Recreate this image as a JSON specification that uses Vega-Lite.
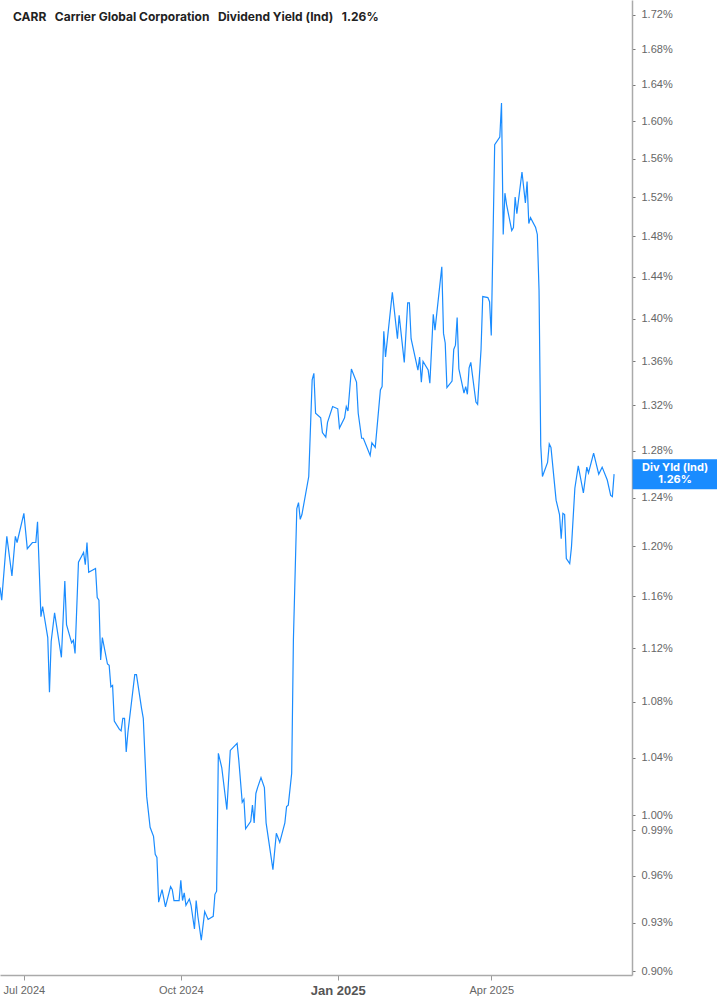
{
  "$schema": "https://vega.github.io/schema/vega-lite/v6.json",
  "width": 632,
  "height": 975,
  "autosize": {"type": "none"},
  "padding": {"left": 0, "top": 0, "right": 85, "bottom": 30},
  "title": {
    "text": "CARR\u00a0\u00a0\u00a0Carrier Global Corporation\u00a0\u00a0\u00a0Dividend Yield (Ind)\u00a0\u00a0\u00a01.26%",
    "anchor": "start",
    "frame": "group",
    "orient": "top",
    "offset": -21,
    "dx": 13,
    "dy": 12,
    "baseline": "alphabetic",
    "font": "Inter",
    "fontSize": 12,
    "fontWeight": "bold",
    "color": "#222222"
  },
  "data": {
    "values": [
      {"d": "2024-06-17", "v": 1.167}, {"d": "2024-06-18", "v": 1.157}, {"d": "2024-06-21", "v": 1.208},
      {"d": "2024-06-24", "v": 1.176}, {"d": "2024-06-26", "v": 1.208}, {"d": "2024-06-27", "v": 1.203},
      {"d": "2024-07-01", "v": 1.227}, {"d": "2024-07-03", "v": 1.198}, {"d": "2024-07-06", "v": 1.203},
      {"d": "2024-07-08", "v": 1.203}, {"d": "2024-07-09", "v": 1.220}, {"d": "2024-07-11", "v": 1.144},
      {"d": "2024-07-12", "v": 1.152}, {"d": "2024-07-15", "v": 1.128}, {"d": "2024-07-16", "v": 1.087},
      {"d": "2024-07-17", "v": 1.125}, {"d": "2024-07-19", "v": 1.147}, {"d": "2024-07-23", "v": 1.113},
      {"d": "2024-07-25", "v": 1.172}, {"d": "2024-07-26", "v": 1.138}, {"d": "2024-07-29", "v": 1.124},
      {"d": "2024-07-30", "v": 1.126}, {"d": "2024-07-31", "v": 1.116}, {"d": "2024-08-02", "v": 1.187},
      {"d": "2024-08-05", "v": 1.195}, {"d": "2024-08-06", "v": 1.185}, {"d": "2024-08-07", "v": 1.203},
      {"d": "2024-08-08", "v": 1.179}, {"d": "2024-08-12", "v": 1.182}, {"d": "2024-08-13", "v": 1.159},
      {"d": "2024-08-14", "v": 1.157}, {"d": "2024-08-15", "v": 1.111}, {"d": "2024-08-16", "v": 1.128},
      {"d": "2024-08-19", "v": 1.108}, {"d": "2024-08-20", "v": 1.107}, {"d": "2024-08-21", "v": 1.091},
      {"d": "2024-08-22", "v": 1.092}, {"d": "2024-08-23", "v": 1.066}, {"d": "2024-08-26", "v": 1.060},
      {"d": "2024-08-27", "v": 1.059}, {"d": "2024-08-28", "v": 1.068}, {"d": "2024-08-29", "v": 1.068},
      {"d": "2024-08-30", "v": 1.044}, {"d": "2024-08-31", "v": 1.058}, {"d": "2024-09-04", "v": 1.100},
      {"d": "2024-09-05", "v": 1.100}, {"d": "2024-09-08", "v": 1.075}, {"d": "2024-09-09", "v": 1.068},
      {"d": "2024-09-11", "v": 1.013}, {"d": "2024-09-13", "v": 0.992}, {"d": "2024-09-15", "v": 0.986},
      {"d": "2024-09-16", "v": 0.974}, {"d": "2024-09-17", "v": 0.972}, {"d": "2024-09-18", "v": 0.943},
      {"d": "2024-09-20", "v": 0.951}, {"d": "2024-09-22", "v": 0.940}, {"d": "2024-09-25", "v": 0.953},
      {"d": "2024-09-26", "v": 0.951}, {"d": "2024-09-27", "v": 0.944}, {"d": "2024-09-30", "v": 0.944},
      {"d": "2024-10-01", "v": 0.957}, {"d": "2024-10-02", "v": 0.944}, {"d": "2024-10-03", "v": 0.949},
      {"d": "2024-10-04", "v": 0.941}, {"d": "2024-10-06", "v": 0.945}, {"d": "2024-10-07", "v": 0.941},
      {"d": "2024-10-09", "v": 0.926}, {"d": "2024-10-10", "v": 0.944}, {"d": "2024-10-11", "v": 0.934},
      {"d": "2024-10-13", "v": 0.919}, {"d": "2024-10-15", "v": 0.937}, {"d": "2024-10-17", "v": 0.932},
      {"d": "2024-10-20", "v": 0.934}, {"d": "2024-10-21", "v": 0.948}, {"d": "2024-10-22", "v": 0.950},
      {"d": "2024-10-23", "v": 1.043}, {"d": "2024-10-25", "v": 1.033}, {"d": "2024-10-28", "v": 1.004},
      {"d": "2024-10-30", "v": 1.045}, {"d": "2024-11-03", "v": 1.050}, {"d": "2024-11-04", "v": 1.038},
      {"d": "2024-11-06", "v": 1.009}, {"d": "2024-11-07", "v": 1.011}, {"d": "2024-11-08", "v": 0.991},
      {"d": "2024-11-11", "v": 0.996}, {"d": "2024-11-12", "v": 1.007}, {"d": "2024-11-13", "v": 0.995},
      {"d": "2024-11-14", "v": 1.015}, {"d": "2024-11-15", "v": 1.019}, {"d": "2024-11-17", "v": 1.026},
      {"d": "2024-11-19", "v": 1.019}, {"d": "2024-11-20", "v": 0.995}, {"d": "2024-11-24", "v": 0.964},
      {"d": "2024-11-26", "v": 0.988}, {"d": "2024-11-28", "v": 0.982}, {"d": "2024-12-01", "v": 0.995},
      {"d": "2024-12-02", "v": 1.006}, {"d": "2024-12-03", "v": 1.007}, {"d": "2024-12-05", "v": 1.029},
      {"d": "2024-12-06", "v": 1.126}, {"d": "2024-12-08", "v": 1.231}, {"d": "2024-12-09", "v": 1.236},
      {"d": "2024-12-10", "v": 1.222}, {"d": "2024-12-11", "v": 1.226}, {"d": "2024-12-15", "v": 1.258},
      {"d": "2024-12-17", "v": 1.343}, {"d": "2024-12-18", "v": 1.349}, {"d": "2024-12-19", "v": 1.313},
      {"d": "2024-12-22", "v": 1.309}, {"d": "2024-12-23", "v": 1.296}, {"d": "2024-12-25", "v": 1.292},
      {"d": "2024-12-26", "v": 1.305}, {"d": "2024-12-29", "v": 1.319}, {"d": "2025-01-01", "v": 1.317},
      {"d": "2025-01-02", "v": 1.300}, {"d": "2025-01-05", "v": 1.309}, {"d": "2025-01-06", "v": 1.319},
      {"d": "2025-01-07", "v": 1.315}, {"d": "2025-01-09", "v": 1.353}, {"d": "2025-01-12", "v": 1.341},
      {"d": "2025-01-13", "v": 1.313}, {"d": "2025-01-15", "v": 1.291}, {"d": "2025-01-16", "v": 1.291},
      {"d": "2025-01-20", "v": 1.276}, {"d": "2025-01-21", "v": 1.287}, {"d": "2025-01-23", "v": 1.283},
      {"d": "2025-01-26", "v": 1.334}, {"d": "2025-01-27", "v": 1.337}, {"d": "2025-01-28", "v": 1.388},
      {"d": "2025-01-29", "v": 1.364}, {"d": "2025-02-02", "v": 1.425}, {"d": "2025-02-05", "v": 1.381},
      {"d": "2025-02-06", "v": 1.403}, {"d": "2025-02-09", "v": 1.359}, {"d": "2025-02-11", "v": 1.415},
      {"d": "2025-02-12", "v": 1.415}, {"d": "2025-02-13", "v": 1.381}, {"d": "2025-02-17", "v": 1.352},
      {"d": "2025-02-18", "v": 1.364}, {"d": "2025-02-19", "v": 1.341}, {"d": "2025-02-20", "v": 1.360},
      {"d": "2025-02-23", "v": 1.352}, {"d": "2025-02-24", "v": 1.340}, {"d": "2025-02-26", "v": 1.404},
      {"d": "2025-02-27", "v": 1.389}, {"d": "2025-03-03", "v": 1.450}, {"d": "2025-03-04", "v": 1.386},
      {"d": "2025-03-05", "v": 1.377}, {"d": "2025-03-06", "v": 1.336}, {"d": "2025-03-09", "v": 1.342},
      {"d": "2025-03-10", "v": 1.371}, {"d": "2025-03-11", "v": 1.375}, {"d": "2025-03-12", "v": 1.401},
      {"d": "2025-03-13", "v": 1.353}, {"d": "2025-03-16", "v": 1.331}, {"d": "2025-03-17", "v": 1.337},
      {"d": "2025-03-18", "v": 1.330}, {"d": "2025-03-19", "v": 1.354}, {"d": "2025-03-20", "v": 1.359},
      {"d": "2025-03-23", "v": 1.323}, {"d": "2025-03-24", "v": 1.321}, {"d": "2025-03-26", "v": 1.371},
      {"d": "2025-03-27", "v": 1.421}, {"d": "2025-03-30", "v": 1.420}, {"d": "2025-03-31", "v": 1.416},
      {"d": "2025-04-01", "v": 1.384}, {"d": "2025-04-03", "v": 1.575}, {"d": "2025-04-06", "v": 1.583},
      {"d": "2025-04-07", "v": 1.620}, {"d": "2025-04-08", "v": 1.482}, {"d": "2025-04-09", "v": 1.524},
      {"d": "2025-04-10", "v": 1.512}, {"d": "2025-04-13", "v": 1.486}, {"d": "2025-04-14", "v": 1.489},
      {"d": "2025-04-15", "v": 1.520}, {"d": "2025-04-16", "v": 1.503}, {"d": "2025-04-19", "v": 1.546},
      {"d": "2025-04-21", "v": 1.514}, {"d": "2025-04-22", "v": 1.536}, {"d": "2025-04-23", "v": 1.493},
      {"d": "2025-04-24", "v": 1.499}, {"d": "2025-04-27", "v": 1.489}, {"d": "2025-04-28", "v": 1.482},
      {"d": "2025-04-29", "v": 1.427}, {"d": "2025-04-30", "v": 1.285}, {"d": "2025-05-01", "v": 1.258},
      {"d": "2025-05-04", "v": 1.270}, {"d": "2025-05-05", "v": 1.286}, {"d": "2025-05-06", "v": 1.283},
      {"d": "2025-05-09", "v": 1.238}, {"d": "2025-05-11", "v": 1.226}, {"d": "2025-05-12", "v": 1.206},
      {"d": "2025-05-13", "v": 1.227}, {"d": "2025-05-14", "v": 1.226}, {"d": "2025-05-15", "v": 1.190},
      {"d": "2025-05-17", "v": 1.186}, {"d": "2025-05-18", "v": 1.199}, {"d": "2025-05-20", "v": 1.248},
      {"d": "2025-05-22", "v": 1.267}, {"d": "2025-05-25", "v": 1.244}, {"d": "2025-05-27", "v": 1.266},
      {"d": "2025-05-28", "v": 1.261}, {"d": "2025-05-31", "v": 1.278}, {"d": "2025-06-03", "v": 1.260},
      {"d": "2025-06-05", "v": 1.266}, {"d": "2025-06-08", "v": 1.255}, {"d": "2025-06-10", "v": 1.242},
      {"d": "2025-06-11", "v": 1.241}, {"d": "2025-06-12", "v": 1.26}
    ]
  },
  "encoding": {
    "x": {
      "field": "d",
      "type": "temporal",
      "scale": {
        "domain": [
          {"year": 2024, "month": 6, "date": 17},
          {"year": 2025, "month": 6, "date": 22, "hours": 12}
        ]
      },
      "axis": {
        "title": null,
        "grid": false,
        "format": "%b %Y",
        "tickCount": {"interval": "month", "step": 3},
        "domainColor": "#aaaaaa",
        "domainWidth": 1.5,
        "tickColor": "#999999",
        "tickSize": 5,
        "labelPadding": 4,
        "labelColor": {"condition": {"test": "month(datum.value) == 0", "value": "#555555"}, "value": "#666666"},
        "labelFont": "Liberation Sans",
        "labelFontSize": {"condition": {"test": "month(datum.value) == 0", "value": 13}, "value": 11},
        "labelFontWeight": {"condition": {"test": "month(datum.value) == 0", "value": "bold"}, "value": "normal"}
      }
    },
    "y": {
      "field": "v",
      "type": "quantitative",
      "scale": {"type": "log", "domain": [0.8976, 1.737], "nice": false, "zero": false},
      "axis": {
        "orient": "right",
        "title": null,
        "grid": false,
        "values": [0.90, 0.93, 0.96, 0.99, 1.00, 1.04, 1.08, 1.12, 1.16, 1.20, 1.24, 1.28, 1.32, 1.36, 1.40, 1.44, 1.48, 1.52, 1.56, 1.60, 1.64, 1.68, 1.72],
        "labelExpr": "format(datum.value, '.2f') + '%'",
        "domainColor": "#aaaaaa",
        "domainWidth": 1.5,
        "tickColor": "#777777",
        "tickSize": 3,
        "labelPadding": 6,
        "labelColor": "#666666",
        "labelFont": "Liberation Sans",
        "labelFontSize": 11
      }
    }
  },
  "layer": [
    {
      "mark": {"type": "line", "color": "#1a8cff", "strokeWidth": 1.2}
    },
    {
      "transform": [
        {"window": [{"op": "rank", "as": "r"}], "sort": [{"field": "d", "order": "descending"}]},
        {"filter": "datum.r == 1"}
      ],
      "mark": {
        "type": "point",
        "shape": "M-1,-0.353L1,-0.353L1,0.353L-1,0.353Z",
        "size": 7225,
        "filled": true,
        "opacity": 1,
        "strokeWidth": 0,
        "color": "#1a8cff",
        "xOffset": 61
      }
    },
    {
      "transform": [
        {"window": [{"op": "rank", "as": "r"}], "sort": [{"field": "d", "order": "descending"}]},
        {"filter": "datum.r == 1"}
      ],
      "mark": {
        "type": "text",
        "color": "white",
        "font": "Inter",
        "fontSize": 11,
        "fontWeight": "bold",
        "lineHeight": 12,
        "align": "center",
        "baseline": "middle",
        "xOffset": 61,
        "dy": -6
      },
      "encoding": {
        "text": {"value": ["Div Yld (Ind)", "1.26%"]}
      }
    }
  ],
  "config": {
    "view": {"stroke": null}
  }
}
